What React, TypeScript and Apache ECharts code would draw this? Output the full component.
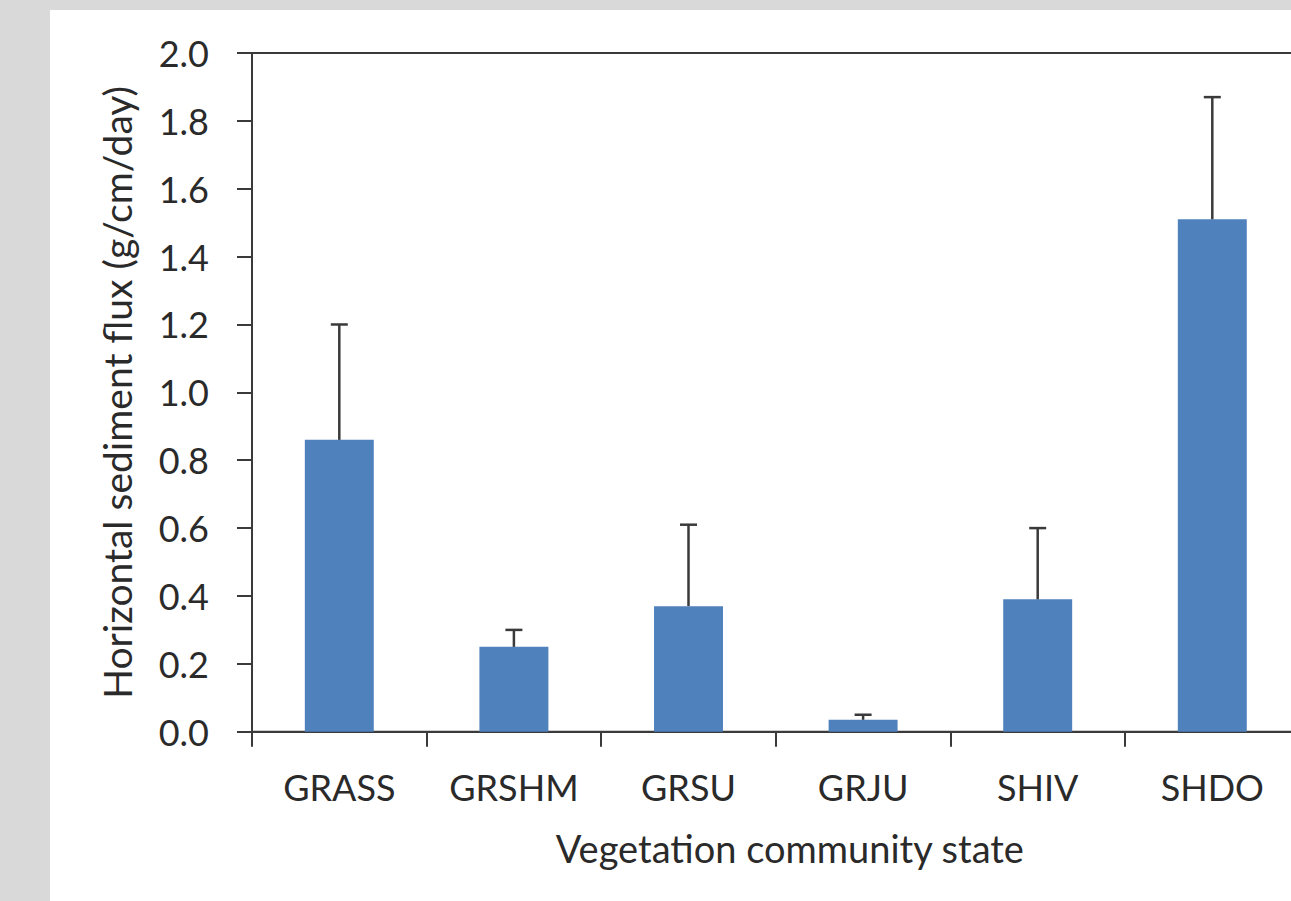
import React, { useEffect, useRef } from "react";
import * as echarts from "echarts";

const categories = ["GRASS", "GRSHM", "GRSU", "GRJU", "SHIV", "SHDO"];
const meanFlux = [0.86, 0.25, 0.37, 0.035, 0.39, 1.51];
const upperError = [1.2, 0.3, 0.61, 0.05, 0.6, 1.87];
const yTicks = { min: 0, max: 2, interval: 0.2 };
const yTitle = "Horizontal sediment flux (g/cm/day)";
const xTitle = "Vegetation community state";

const FONT = "Lato";
const TEXT = "#2a2a2a";
const LINE = "#3a3a3a";

export default function App() {
  const ref = useRef<HTMLDivElement>(null);
  useEffect(() => {
    if (!ref.current) return;
    const chart = echarts.init(ref.current, undefined, { renderer: "svg" });
    const errData = categories.map((_, i) => [i, meanFlux[i], upperError[i]]);
    chart.setOption({
      animation: false,
      backgroundColor: "#ffffff",
      textStyle: { fontFamily: FONT },
      grid: {
        left: 202,
        top: 43,
        width: 1047.6,
        height: 678.7,
        outerBoundsMode: "none",
        containLabel: false,
        show: true,
        borderColor: LINE,
        borderWidth: 2,
        backgroundColor: "transparent",
      },
      xAxis: {
        type: "category",
        data: categories,
        boundaryGap: true,
        axisLine: { show: true, onZero: false, lineStyle: { color: LINE, width: 2 } },
        axisTick: { show: true, length: 15, alignWithLabel: false, lineStyle: { color: LINE, width: 2 } },
        axisLabel: { color: TEXT, fontSize: 36, fontFamily: FONT, margin: 37 },
        name: xTitle,
        nameLocation: "middle",
        nameGap: 97,
        nameTextStyle: { color: TEXT, fontSize: 38, fontFamily: FONT, padding: [0, 0, 0, 28] },
      },
      yAxis: {
        type: "value",
        min: yTicks.min,
        max: yTicks.max,
        interval: yTicks.interval,
        splitLine: { show: false },
        axisLine: { show: true, lineStyle: { color: LINE, width: 2 } },
        axisTick: { show: true, length: 15, lineStyle: { color: LINE, width: 2 } },
        axisLabel: {
          color: TEXT,
          fontSize: 36,
          fontFamily: FONT,
          margin: 43,
          formatter: (v: number) => v.toFixed(1),
        },
        name: yTitle,
        nameLocation: "middle",
        nameGap: 116,
        nameTextStyle: { color: TEXT, fontSize: 39, fontFamily: FONT },
      },
      series: [
        {
          type: "bar",
          data: meanFlux,
          barWidth: "39.5%",
          itemStyle: { color: "#4f81bd" },
          z: 2,
        },
        {
          type: "custom",
          data: errData,
          z: 3,
          renderItem: (params: any, api: any) => {
            const x = api.value(0);
            const lo = api.coord([x, api.value(1)]);
            const hi = api.coord([x, api.value(2)]);
            const half = 8.5;
            const style = { stroke: LINE, lineWidth: 2.5 };
            return {
              type: "group",
              children: [
                { type: "line", shape: { x1: lo[0], y1: lo[1], x2: hi[0], y2: hi[1] }, style },
                { type: "line", shape: { x1: hi[0] - half, y1: hi[1], x2: hi[0] + half, y2: hi[1] }, style },
              ],
            };
          },
        },
      ],
    });
    return () => chart.dispose();
  }, []);
  return (
    <div style={{ position: "absolute", left: 0, top: 0, width: 1291, height: 901, background: "#d9d9d9", overflow: "hidden" }}>
      <div
        ref={ref}
        style={{ position: "absolute", left: 50, top: 10, width: 1241, height: 891, background: "#ffffff" }}
      />
    </div>
  );
}
